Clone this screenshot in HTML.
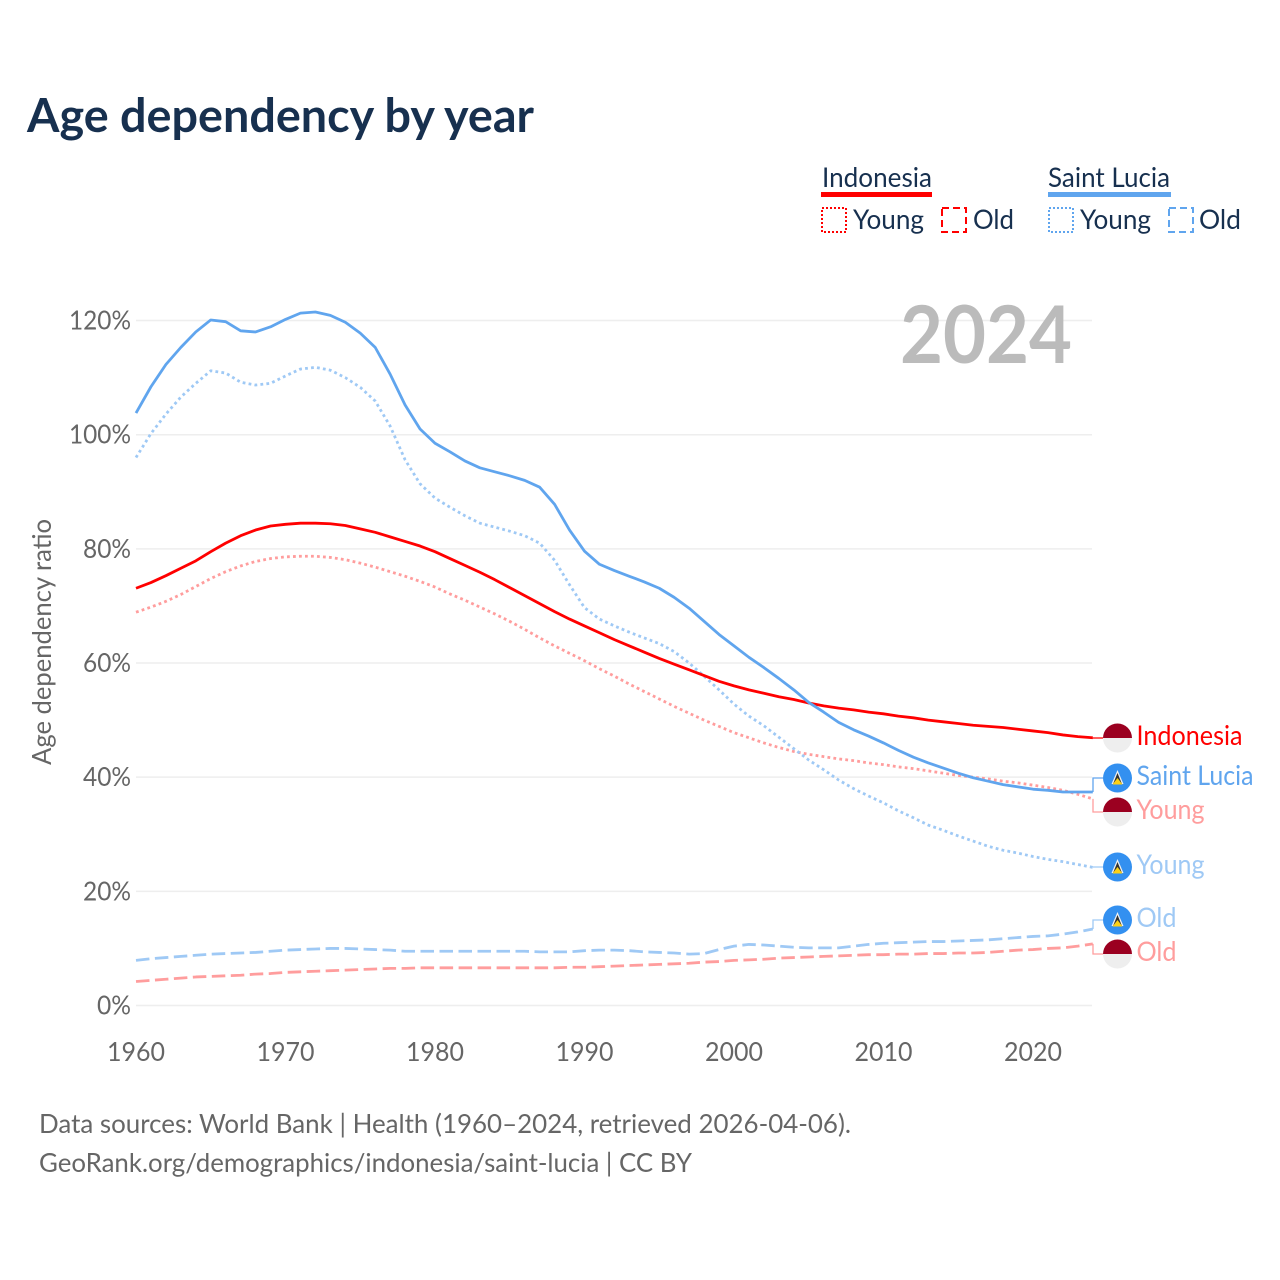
<!DOCTYPE html>
<html lang="en">
<head>
<meta charset="utf-8">
<title>Age dependency by year</title>
<style>
html,body{margin:0;padding:0;background:#fff;width:1280px;height:1280px;overflow:hidden}
svg{display:block}
text{font-family:"Lato","Carlito","Liberation Sans",sans-serif}
</style>
</head>
<body>
<svg id="chart" xmlns="http://www.w3.org/2000/svg" width="1280" height="1280" viewBox="0 0 1280 1280">
  <defs>
    <clipPath id="flag-clip-id"><circle cx="0" cy="0" r="14.5"/></clipPath>
    <g id="flag-id">
      <g clip-path="url(#flag-clip-id)">
        <rect x="-15" y="-15" width="30" height="15" fill="#9b0020"/>
        <rect x="-15" y="0" width="30" height="15" fill="#eeeeee"/>
      </g>
    </g>
    <g id="flag-lc">
      <circle cx="0" cy="0" r="14.5" fill="#3390f0"/>
      <polygon points="0,-8 6,6 -6,6" fill="#f2f2f2"/>
      <polygon points="0,-5 4.5,6 -4.5,6" fill="#333333"/>
      <polygon points="0,0 5,6.5 -5,6.5" fill="#fcd116"/>
    </g>
  </defs>

  <text x="27" y="132" font-size="47" font-weight="700" fill="#17304f" textLength="507" lengthAdjust="spacingAndGlyphs">Age dependency by year</text>

  <g>
    <text x="822" y="187" font-size="27" fill="#17304f" textLength="110" lengthAdjust="spacingAndGlyphs">Indonesia</text>
    <rect x="821" y="192" width="111" height="5" fill="#ff0000"/>
    <rect x="822" y="208" width="24" height="24" fill="none" stroke="#ff0000" stroke-width="2" stroke-dasharray="2 2"/>
    <text x="853" y="229" font-size="27" fill="#17304f" textLength="71" lengthAdjust="spacingAndGlyphs">Young</text>
    <rect x="942" y="208" width="24" height="24" fill="none" stroke="#ff0000" stroke-width="2" stroke-dasharray="7 4"/>
    <text x="973" y="229" font-size="27" fill="#17304f" textLength="41" lengthAdjust="spacingAndGlyphs">Old</text>

    <text x="1048" y="187" font-size="27" fill="#17304f" textLength="122" lengthAdjust="spacingAndGlyphs">Saint Lucia</text>
    <rect x="1048" y="192" width="123" height="5" fill="#60a5ee"/>
    <rect x="1049" y="208" width="24" height="24" fill="none" stroke="#60a5ee" stroke-width="2" stroke-dasharray="2 2"/>
    <text x="1080" y="229" font-size="27" fill="#17304f" textLength="71" lengthAdjust="spacingAndGlyphs">Young</text>
    <rect x="1169" y="208" width="24" height="24" fill="none" stroke="#60a5ee" stroke-width="2" stroke-dasharray="7 4"/>
    <text x="1199" y="229" font-size="27" fill="#17304f" textLength="42" lengthAdjust="spacingAndGlyphs">Old</text>
  </g>

  <g id="grid"></g>
  <g id="yticks"></g>
  <g id="xticks"></g>

  <text transform="translate(51,642) rotate(-90)" text-anchor="middle" font-size="26" fill="#666666" textLength="246" lengthAdjust="spacingAndGlyphs">Age dependency ratio</text>
  <text x="900" y="363" font-size="80" font-weight="700" fill="#bbbbbb" textLength="172" lengthAdjust="spacingAndGlyphs">2024</text>

  <g id="series"></g>
  <g id="labels"></g>

  <text x="39" y="1133" font-size="26" fill="#666666" textLength="812" lengthAdjust="spacingAndGlyphs">Data sources: World Bank | Health (1960–2024, retrieved 2026-04-06).</text>
  <text x="39" y="1172" font-size="26" fill="#666666" textLength="653" lengthAdjust="spacingAndGlyphs">GeoRank.org/demographics/indonesia/saint-lucia | CC BY</text>
</svg>
<script>
const startYear = 1960;
const xTickLabels = ["1960","1970","1980","1990","2000","2010","2020"];
const yTickValues = [0,20,40,60,80,100,120];

const indonesiaTotal = [
  73.1,74.1,75.3,76.6,77.9,79.5,81.0,82.3,83.3,84.0,
  84.3,84.5,84.5,84.4,84.1,83.5,82.9,82.1,81.3,80.5,
  79.5,78.3,77.1,75.9,74.6,73.2,71.8,70.4,69.0,67.7,
  66.5,65.3,64.1,63.0,61.9,60.8,59.8,58.8,57.8,56.8,
  56.0,55.3,54.7,54.1,53.6,53.0,52.5,52.1,51.8,51.4,
  51.1,50.7,50.4,50.0,49.7,49.4,49.1,48.9,48.7,48.4,
  48.1,47.8,47.4,47.1,46.9];
const indonesiaYoung = [
  68.9,69.8,70.8,72.0,73.4,74.8,76.0,77.0,77.8,78.3,
  78.6,78.7,78.7,78.5,78.1,77.5,76.8,76.0,75.2,74.3,
  73.3,72.1,71.0,69.8,68.6,67.3,65.9,64.4,63.0,61.7,
  60.4,59.0,57.7,56.3,55.0,53.7,52.4,51.2,50.0,48.9,
  47.8,46.9,46.0,45.2,44.5,44.0,43.6,43.2,42.9,42.5,
  42.2,41.8,41.5,41.1,40.7,40.3,40.0,39.7,39.3,39.0,
  38.6,38.2,37.7,37.0,36.2];
const indonesiaOld = [
  4.2,4.4,4.6,4.8,5.0,5.1,5.2,5.3,5.5,5.6,
  5.8,5.9,6.0,6.1,6.2,6.3,6.4,6.5,6.5,6.6,
  6.6,6.6,6.6,6.6,6.6,6.6,6.6,6.6,6.6,6.7,
  6.7,6.8,6.9,7.0,7.1,7.2,7.3,7.4,7.6,7.7,
  7.9,8.0,8.1,8.3,8.4,8.5,8.6,8.7,8.8,8.9,
  8.9,9.0,9.0,9.1,9.1,9.2,9.2,9.3,9.5,9.7,
  9.8,10.0,10.1,10.4,10.8];
const saintLuciaTotal = [
  103.8,108.4,112.3,115.3,118.0,120.1,119.8,118.2,118.0,118.9,
  120.2,121.3,121.5,120.9,119.7,117.8,115.3,110.6,105.2,101.0,
  98.5,97.0,95.4,94.2,93.5,92.8,92.0,90.8,87.8,83.3,
  79.6,77.3,76.2,75.2,74.2,73.1,71.5,69.6,67.3,65.0,
  63.0,61.0,59.2,57.3,55.3,53.1,51.4,49.6,48.3,47.2,
  46.0,44.7,43.5,42.5,41.6,40.7,39.9,39.3,38.7,38.3,
  37.9,37.7,37.4,37.4,37.4];
const saintLuciaYoung = [
  96.0,100.2,103.6,106.6,109.0,111.2,110.8,109.2,108.7,109.0,
  110.3,111.5,111.8,111.3,110.0,108.3,105.9,101.5,95.6,91.4,
  88.9,87.3,85.8,84.5,83.8,83.1,82.3,81.0,78.0,73.7,
  69.7,67.7,66.5,65.4,64.4,63.4,62.0,60.0,57.7,55.3,
  52.8,50.7,49.0,47.0,45.0,43.0,41.3,39.5,38.0,36.7,
  35.5,34.1,32.9,31.6,30.7,29.7,28.8,27.9,27.2,26.7,
  26.1,25.6,25.2,24.7,24.2];
const saintLuciaOld = [
  7.9,8.2,8.4,8.6,8.8,9.0,9.1,9.2,9.3,9.5,
  9.7,9.8,9.9,10.0,10.0,9.9,9.8,9.7,9.5,9.5,
  9.5,9.5,9.5,9.5,9.5,9.5,9.5,9.4,9.4,9.4,
  9.6,9.7,9.7,9.6,9.4,9.3,9.2,9.0,9.1,9.8,
  10.4,10.7,10.6,10.4,10.2,10.1,10.1,10.1,10.4,10.7,
  10.9,11.0,11.1,11.2,11.2,11.3,11.4,11.5,11.7,11.9,
  12.1,12.2,12.5,12.9,13.4];

const indonesiaColor = "#ff0000";
const indonesiaFaded = "#ff9d9d";
const saintLuciaColor = "#60a5ee";
const saintLuciaFaded = "#9fc9f5";
const gridColor = "#eeeeee";
const tickColor = "#666666";

const NS = "http://www.w3.org/2000/svg";
function xScale(year){ return 136 + (year - 1960) * 14.95; }
function yScale(value){ return 1005.5 - value * 5.708; }
function make(tag, attrs, parent, text){
  const el = document.createElementNS(NS, tag);
  for (const k in attrs) el.setAttribute(k, attrs[k]);
  if (text !== undefined) el.textContent = text;
  parent.appendChild(el);
  return el;
}

const grid = document.getElementById('grid');
const yticks = document.getElementById('yticks');
const xticks = document.getElementById('xticks');

yTickValues.forEach(function(v){
  const line = make('line', {x1:136, x2:1092, y1:yScale(v), y2:yScale(v), stroke:gridColor, 'stroke-width':1.5}, grid);
  
  
  const label = v + '%';
  const t = make('text', {x:131, y:yScale(v)+9, 'text-anchor':'end', 'font-size':26, fill:tickColor, textLength:14*label.length+6, lengthAdjust:'spacingAndGlyphs'}, yticks, label);
  
  
});
xTickLabels.forEach(function(label){
  const t = make('text', {x:xScale(Number(label)), y:1061, 'text-anchor':'middle', 'font-size':26, fill:tickColor, textLength:58, lengthAdjust:'spacingAndGlyphs'}, xticks, label);
  
  
});

const seriesGroup = document.getElementById('series');
const labelsGroup = document.getElementById('labels');
const endX = 1093;

function drawSeries(values, color, dash, name){
  const d = values.map(function(v, i){
    return (i ? 'L' : 'M') + xScale(startYear + i).toFixed(2) + ' ' + yScale(v).toFixed(2);
  }).join(' ');
  const attrs = {d:d, fill:'none', stroke:color, 'stroke-width':2.8, 'stroke-linejoin':'round'};
  if (dash) attrs['stroke-dasharray'] = dash;
  const path = make('path', attrs, seriesGroup);
  
  
}

function drawEnd(values, labelY, color, text, width, flagId, name){
  const yEnd = yScale(values[values.length - 1]);
  const conn = make('path', {d:'M'+endX+' '+yEnd.toFixed(2)+' L'+endX+' '+labelY+' L1103 '+labelY, fill:'none', stroke:color, 'stroke-width':1.3}, labelsGroup);
  
  
  const flag = make('use', {href:'#'+flagId, x:1117.5, y:labelY}, labelsGroup);
  
  
  const t = make('text', {x:1136.5, y:labelY+7, 'font-size':27, fill:color, textLength:width, lengthAdjust:'spacingAndGlyphs'}, labelsGroup, text);
  
  
}

drawSeries(indonesiaYoung, indonesiaFaded, '2.8 3.2', 'line-indonesia-young');
drawSeries(indonesiaOld, indonesiaFaded, '13.5 5.5', 'line-indonesia-old');
drawSeries(saintLuciaYoung, saintLuciaFaded, '2.8 3.2', 'line-saint-lucia-young');
drawSeries(saintLuciaOld, saintLuciaFaded, '13.5 5.5', 'line-saint-lucia-old');
drawSeries(indonesiaTotal, indonesiaColor, null, 'line-indonesia-total');
drawSeries(saintLuciaTotal, saintLuciaColor, null, 'line-saint-lucia-total');

drawEnd(indonesiaOld, 954, indonesiaFaded, 'Old', 40, 'flag-id', 'end-indonesia-old');
drawEnd(saintLuciaOld, 920, saintLuciaFaded, 'Old', 40, 'flag-lc', 'end-saint-lucia-old');
drawEnd(saintLuciaYoung, 867, saintLuciaFaded, 'Young', 68, 'flag-lc', 'end-saint-lucia-young');
drawEnd(indonesiaYoung, 812, indonesiaFaded, 'Young', 68, 'flag-id', 'end-indonesia-young');
drawEnd(saintLuciaTotal, 778, saintLuciaColor, 'Saint Lucia', 117, 'flag-lc', 'end-saint-lucia');
drawEnd(indonesiaTotal, 738, indonesiaColor, 'Indonesia', 106, 'flag-id', 'end-indonesia');
</script>
</body>
</html>
